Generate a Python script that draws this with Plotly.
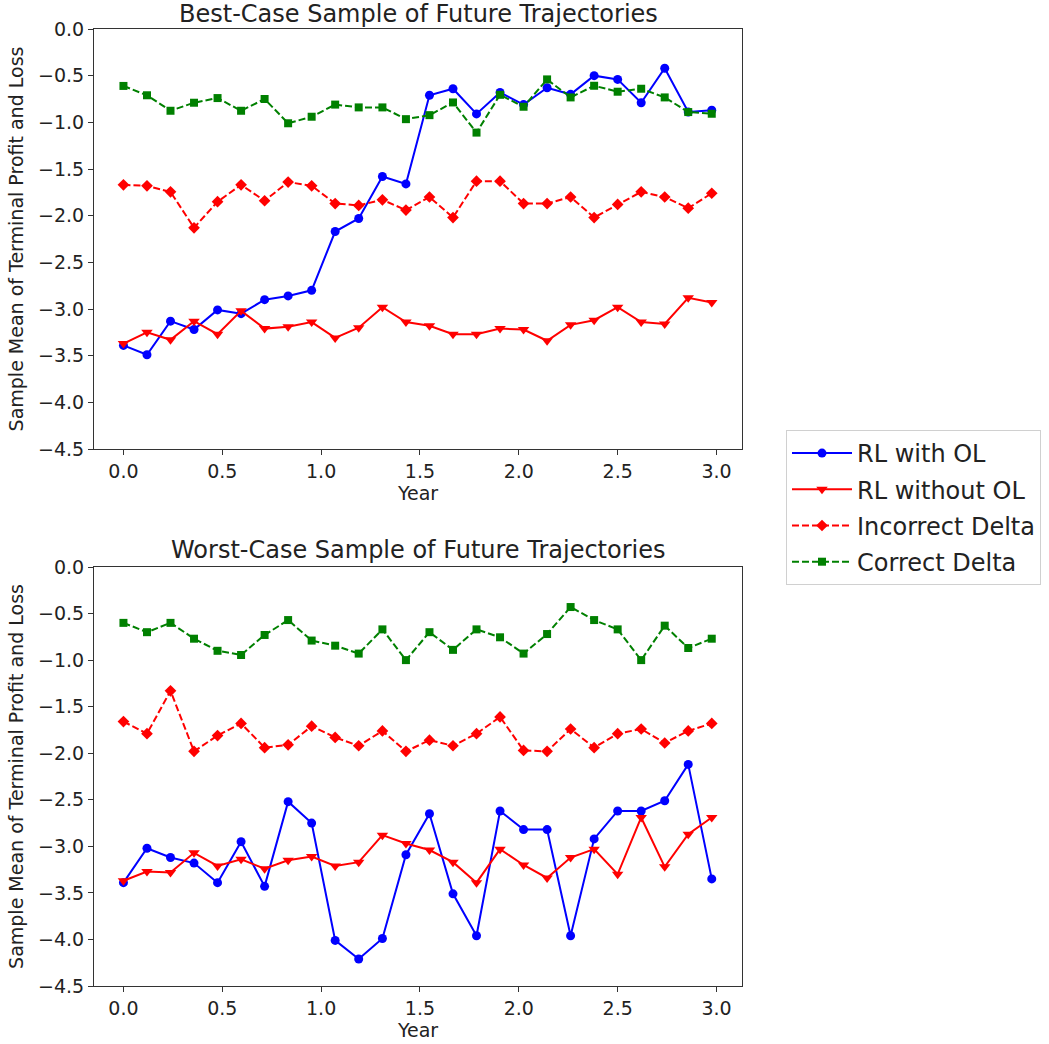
import plotly.graph_objects as go

# Time grid (years)
years = [0.0, 0.119, 0.238, 0.357, 0.476, 0.595, 0.714, 0.833, 0.952, 1.071,
         1.190, 1.310, 1.429, 1.548, 1.667, 1.786, 1.905, 2.024, 2.143, 2.262,
         2.381, 2.500, 2.619, 2.738, 2.857, 2.976]

# Best-case sample
best_rl_ol = [-3.39, -3.49, -3.13, -3.22, -3.01, -3.05, -2.90, -2.86, -2.80, -2.17,
              -2.03, -1.58, -1.66, -0.71, -0.64, -0.91, -0.68, -0.81, -0.63, -0.70,
              -0.50, -0.54, -0.79, -0.42, -0.89, -0.87]
best_rl_no_ol = [-3.37, -3.25, -3.33, -3.13, -3.27, -3.02, -3.21, -3.19, -3.14, -3.31,
                 -3.20, -2.98, -3.14, -3.18, -3.27, -3.27, -3.21, -3.22, -3.34, -3.17,
                 -3.12, -2.98, -3.14, -3.16, -2.88, -2.93]
best_incorrect = [-1.67, -1.68, -1.745, -2.13, -1.85, -1.67, -1.84, -1.64, -1.68, -1.87,
                  -1.89, -1.83, -1.94, -1.80, -2.02, -1.63, -1.63, -1.87, -1.87, -1.80,
                  -2.02, -1.88, -1.745, -1.80, -1.92, -1.76]
best_correct = [-0.61, -0.71, -0.876, -0.79, -0.74, -0.876, -0.75, -1.01, -0.94, -0.81,
                -0.84, -0.84, -0.966, -0.923, -0.787, -1.11, -0.705, -0.833, -0.54, -0.733,
                -0.608, -0.672, -0.64, -0.733, -0.89, -0.908]

# Worst-case sample
worst_rl_ol = [-3.39, -3.02, -3.12, -3.18, -3.39, -2.95, -3.43, -2.52, -2.75, -4.01,
               -4.21, -3.99, -3.09, -2.65, -3.51, -3.96, -2.62, -2.82, -2.82, -3.96,
               -2.92, -2.62, -2.62, -2.51, -2.12, -3.35]
worst_rl_no_ol = [-3.37, -3.27, -3.28, -3.07, -3.21, -3.14, -3.24, -3.15, -3.11, -3.21,
                  -3.17, -2.88, -2.97, -3.04, -3.17, -3.39, -3.03, -3.20, -3.34, -3.12,
                  -3.03, -3.30, -2.69, -3.22, -2.87, -2.69]
worst_incorrect = [-1.66, -1.79, -1.33, -1.98, -1.81, -1.68, -1.94, -1.91, -1.71, -1.83,
                   -1.92, -1.76, -1.98, -1.86, -1.92, -1.79, -1.61, -1.97, -1.98, -1.74,
                   -1.94, -1.79, -1.74, -1.89, -1.76, -1.68]
worst_correct = [-0.60, -0.70, -0.60, -0.77, -0.90, -0.945, -0.73, -0.57, -0.79, -0.845,
                 -0.93, -0.67, -1.00, -0.70, -0.89, -0.67, -0.755, -0.93, -0.72, -0.43,
                 -0.57, -0.67, -1.00, -0.63, -0.87, -0.77]

series_names = ["RL with OL", "RL without OL", "Incorrect Delta", "Correct Delta"]
panel_titles = ["Best-Case Sample of Future Trajectories",
                "Worst-Case Sample of Future Trajectories"]
x_ticks = [0.0, 0.5, 1.0, 1.5, 2.0, 2.5, 3.0]
y_ticks = [0.0, -0.5, -1.0, -1.5, -2.0, -2.5, -3.0, -3.5, -4.0, -4.5]

styles = [
    dict(color="blue", dash="solid", symbol="circle", size=9),
    dict(color="red", dash="solid", symbol="triangle-down", size=10),
    dict(color="red", dash="7px,3px", symbol="diamond", size=9),
    dict(color="green", dash="7px,3px", symbol="square", size=8),
]

FONT = "DejaVu Sans"
TEXT = "#222"
fig = go.Figure()

panels = [
    ("x", "y", [best_rl_ol, best_rl_no_ol, best_incorrect, best_correct]),
    ("x2", "y2", [worst_rl_ol, worst_rl_no_ol, worst_incorrect, worst_correct]),
]
for p, (xa, ya, data) in enumerate(panels):
    for name, vals, st in zip(series_names, data, styles):
        fig.add_trace(go.Scatter(
            x=years, y=vals, xaxis=xa, yaxis=ya, mode="lines+markers",
            name=name, legendgroup=name, showlegend=(p == 0),
            line=dict(color=st["color"], width=2, dash=st["dash"]),
            marker=dict(color=st["color"], symbol=st["symbol"], size=st["size"],
                        line=dict(width=0)),
        ))

axis_common = dict(
    showline=True, linecolor="#333", linewidth=1, mirror=True,
    showgrid=False, zeroline=False, ticks="outside", ticklen=5,
    tickcolor="#333", tickfont=dict(family=FONT, size=19, color=TEXT),
    automargin=False,
)
x_dom = [94 / 1049, 742 / 1049]
top_dom = [1 - 449 / 1044, 1 - 29 / 1044]
bot_dom = [1 - 986 / 1044, 1 - 567 / 1044]

xcommon = dict(axis_common, range=[-0.149, 3.129], tickvals=x_ticks,
               tickformat=".1f", domain=x_dom,
               title=dict(text="Year", font=dict(family=FONT, size=19, color=TEXT),
                          standoff=2))
ycommon = dict(axis_common, range=[-4.5, 0.0], tickvals=y_ticks, tickformat=".1f",
               title=dict(text="Sample Mean of Terminal Profit and Loss",
                          font=dict(family=FONT, size=19, color=TEXT), standoff=9))

fig.update_layout(
    width=1049, height=1044,
    margin=dict(l=0, r=0, t=0, b=0, autoexpand=False),
    paper_bgcolor="white", plot_bgcolor="white",
    font=dict(family=FONT, color=TEXT),
    xaxis=dict(xcommon, anchor="y"),
    yaxis=dict(ycommon, domain=top_dom, anchor="x"),
    xaxis2=dict(xcommon, anchor="y2"),
    yaxis2=dict(ycommon, domain=bot_dom, anchor="x2"),
    legend=dict(
        x=786 / 1049, y=1 - 430 / 1044, xanchor="left", yanchor="top",
        font=dict(family=FONT, size=24, color=TEXT),
        bordercolor="#d0d0d0", borderwidth=1, bgcolor="white",
        traceorder="grouped", tracegroupgap=2, itemwidth=60,
    ),
    annotations=[
        dict(text=panel_titles[0], x=sum(x_dom) / 2, y=1 - 14 / 1044,
             xref="paper", yref="paper", showarrow=False, xanchor="center",
             yanchor="middle", font=dict(family=FONT, size=24, color=TEXT)),
        dict(text=panel_titles[1], x=sum(x_dom) / 2, y=1 - 550 / 1044,
             xref="paper", yref="paper", showarrow=False, xanchor="center",
             yanchor="middle", font=dict(family=FONT, size=24, color=TEXT)),
    ],
)

fig.write_html("out.html")
